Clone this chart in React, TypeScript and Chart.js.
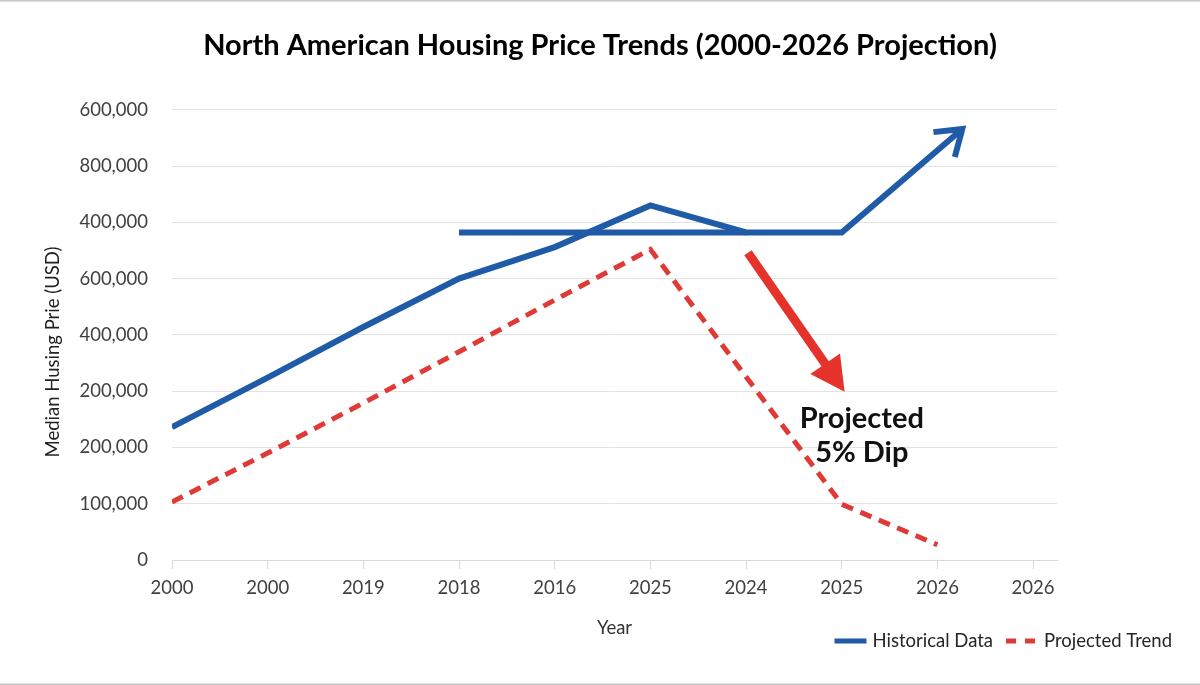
import React, { useEffect, useRef } from 'react';
import { Chart, registerables } from 'chart.js';

Chart.register(...registerables);

// Axis tick labels
const xTickLabels = ['2000', '2000', '2019', '2018', '2016', '2025', '2024', '2025', '2026', '2026'];
const yTickLabels = ['0', '100,000', '200,000', '200,000', '400,000', '600,000', '400,000', '800,000', '600,000'];

// Historical series (position along the year axis, median price)
const historicalX = [0, 1, 2, 3, 4, 5, 6, 7, 8.26];
const historicalValues = [236000, 324000, 414000, 500000, 556000, 630000, 582000, 582000, 766000];

// Flat run of the historical series
const plateauX = [3, 6];
const plateauValues = [582000, 582000];

// Projected trend
const projectedX = [0, 1, 2, 3, 4, 5, 7, 8];
const projectedValues = [103000, 190000, 279000, 370000, 462000, 552000, 99000, 27000];

// Dip callout (axis coordinates)
const dipArrowFrom = { x: 6.02, y: 546000 };
const dipArrowTo = { x: 7.03, y: 299000 };
const dipLabelAnchor = { x: 7.21, y: 235000 };
const dipLabelLines = ['Projected', '5% Dip'];

const BLUE = '#1f5ba6';
const RED = '#e03a36';
const ARROW_RED = '#e5322b';
const FONT = 'Lato';
const SMALL = 18.5;

const pts = (xs: number[], ys: number[]) => xs.map((x, i) => ({ x, y: ys[i] }));

const decorations = {
  id: 'decorations',
  beforeDraw(chart: any) {
    const { ctx, width, height } = chart;
    ctx.save();
    ctx.fillStyle = '#c6c6c6';
    ctx.fillRect(0, 0, width, 1.5);
    ctx.fillRect(0, height - 1.5, width, 1.5);
    ctx.restore();
  },
  afterDatasetsDraw(chart: any) {
    const { ctx, scales } = chart;
    const xs = scales.x;
    const ys = scales.y;

    // open arrowhead at the end of the historical line
    const meta = chart.getDatasetMeta(0);
    const n = meta.data.length;
    const tip = meta.data[n - 1];
    const prev = meta.data[n - 2];
    const ang = Math.atan2(tip.y - prev.y, tip.x - prev.x);
    const L = 29;
    const spread = 0.6;
    ctx.save();
    ctx.strokeStyle = BLUE;
    ctx.lineWidth = 6;
    ctx.lineCap = 'butt';
    ctx.lineJoin = 'miter';
    ctx.beginPath();
    ctx.moveTo(tip.x + L * Math.cos(ang + Math.PI - spread), tip.y + L * Math.sin(ang + Math.PI - spread));
    ctx.lineTo(tip.x, tip.y);
    ctx.lineTo(tip.x + L * Math.cos(ang + Math.PI + spread), tip.y + L * Math.sin(ang + Math.PI + spread));
    ctx.stroke();
    ctx.restore();

    // red dip arrow
    const fx = xs.getPixelForValue(dipArrowFrom.x);
    const fy = ys.getPixelForValue(dipArrowFrom.y);
    const tx = xs.getPixelForValue(dipArrowTo.x);
    const ty = ys.getPixelForValue(dipArrowTo.y);
    const a = Math.atan2(ty - fy, tx - fx);
    const headLen = 34;
    const headHalf = 18;
    const bx = tx - headLen * Math.cos(a);
    const by = ty - headLen * Math.sin(a);
    ctx.save();
    ctx.strokeStyle = ARROW_RED;
    ctx.fillStyle = ARROW_RED;
    ctx.lineWidth = 9;
    ctx.beginPath();
    ctx.moveTo(fx, fy);
    ctx.lineTo(bx + 2 * Math.cos(a), by + 2 * Math.sin(a));
    ctx.stroke();
    ctx.beginPath();
    ctx.moveTo(tx, ty);
    ctx.lineTo(bx + headHalf * Math.cos(a + Math.PI / 2), by + headHalf * Math.sin(a + Math.PI / 2));
    ctx.lineTo(bx + headHalf * Math.cos(a - Math.PI / 2), by + headHalf * Math.sin(a - Math.PI / 2));
    ctx.closePath();
    ctx.fill();
    ctx.restore();

    // callout text
    const lx = xs.getPixelForValue(dipLabelAnchor.x);
    const ly = ys.getPixelForValue(dipLabelAnchor.y);
    ctx.save();
    ctx.fillStyle = '#111';
    ctx.font = `bold 29px ${FONT}`;
    ctx.textAlign = 'center';
    ctx.textBaseline = 'alphabetic';
    dipLabelLines.forEach((t, i) => ctx.fillText(t, lx, ly + i * 34));
    ctx.restore();
  },
  afterDraw(chart: any) {
    const { ctx } = chart;
    // y axis title
    ctx.save();
    ctx.fillStyle = '#222';
    ctx.font = `${SMALL}px ${FONT}`;
    ctx.translate(53, 352);
    ctx.rotate(-Math.PI / 2);
    ctx.textAlign = 'center';
    ctx.textBaseline = 'middle';
    ctx.fillText('Median Husing Prie (USD)', 0, 0);
    ctx.restore();

    // legend, right aligned under the plot
    const items = chart.data.datasets.filter((d: any) => d.label);
    const sample = 32;
    const gap = 6;
    const itemGap = 13;
    ctx.save();
    ctx.font = `${SMALL}px ${FONT}`;
    const widths = items.map((d: any) => sample + gap + ctx.measureText(d.label).width);
    const total = widths.reduce((s: number, w: number) => s + w, 0) + itemGap * (items.length - 1);
    let x = 1172 - total;
    const y = 641;
    items.forEach((d: any, i: number) => {
      ctx.strokeStyle = d.borderColor;
      ctx.lineWidth = 5;
      ctx.setLineDash(d.borderDash ? [10, 9] : []);
      ctx.beginPath();
      ctx.moveTo(x, y);
      ctx.lineTo(x + sample, y);
      ctx.stroke();
      ctx.setLineDash([]);
      ctx.fillStyle = '#262626';
      ctx.textAlign = 'left';
      ctx.textBaseline = 'middle';
      ctx.fillText(d.label, x + sample + gap, y);
      x += widths[i] + itemGap;
    });
    ctx.restore();
  },
};

export default function App() {
  const ref = useRef<HTMLCanvasElement>(null);

  useEffect(() => {
    if (!ref.current) return;
    const tickFont = { family: FONT, size: SMALL };
    const chart = new Chart(ref.current, {
      type: 'line',
      data: {
        datasets: [
          {
            label: 'Historical Data',
            data: pts(historicalX, historicalValues),
            borderColor: BLUE,
            borderWidth: 6,
            pointRadius: 0,
            tension: 0,
          },
          {
            label: '',
            data: pts(plateauX, plateauValues),
            borderColor: BLUE,
            borderWidth: 6,
            pointRadius: 0,
            tension: 0,
          },
          {
            label: 'Projected Trend',
            data: pts(projectedX, projectedValues),
            borderColor: RED,
            borderWidth: 5,
            borderDash: [12, 8],
            pointRadius: 0,
            tension: 0,
          },
        ],
      },
      options: {
        animation: false,
        responsive: false,
        layout: { padding: 0 },
        plugins: {
          legend: { display: false },
          tooltip: { enabled: false },
          title: {
            display: true,
            text: 'North American Housing Price Trends (2000-2026 Projection)',
            color: '#000',
            font: { family: FONT, size: 29, weight: 'bold' },
            padding: { top: 28, bottom: 47 },
          },
        },
        scales: {
          x: {
            type: 'linear',
            min: 0,
            max: 9.25,
            afterFit: (s: any) => {
              s.height = 125;
            },
            ticks: {
              stepSize: 1,
              includeBounds: false,
              autoSkip: false,
              maxRotation: 0,
              padding: 8,
              color: '#404040',
              font: tickFont,
              callback: (v: any) => xTickLabels[v] ?? '',
            },
            grid: { drawOnChartArea: false, drawTicks: true, tickLength: 9, color: '#d9d9d9' },
            border: { color: '#d9d9d9' },
            title: {
              display: true,
              text: 'Year',
              color: '#333',
              font: tickFont,
              padding: { top: 0, bottom: 46 },
            },
          },
          y: {
            min: 0,
            max: 800000,
            afterFit: (s: any) => {
              s.width = 172;
            },
            ticks: {
              stepSize: 100000,
              autoSkip: false,
              padding: 24,
              color: '#404040',
              font: tickFont,
              callback: (v: any) => yTickLabels[Math.round(v / 100000)] ?? '',
            },
            grid: { color: '#e2e2e2', drawTicks: false },
            border: { display: false },
          },
          // empty right-hand gutter that keeps the plot narrower than the canvas
          gutter: {
            position: 'right',
            min: 0,
            max: 1,
            afterFit: (s: any) => {
              s.width = 143;
            },
            ticks: { display: false },
            grid: { display: false },
            border: { display: false },
          },
        },
      },
      plugins: [decorations],
    } as any);

    let alive = true;
    if ((document as any).fonts?.load) {
      Promise.all([
        (document as any).fonts.load(`${SMALL}px ${FONT}`),
        (document as any).fonts.load(`bold 29px ${FONT}`),
      ]).then(() => {
        if (alive) chart.update();
      });
    }
    return () => {
      alive = false;
      chart.destroy();
    };
  }, []);

  return (
    <div style={{ position: 'absolute', left: 0, top: 0, width: 1200, height: 685, background: '#fff' }}>
      <canvas ref={ref} width={1200} height={685} style={{ display: 'block' }} />
    </div>
  );
}
